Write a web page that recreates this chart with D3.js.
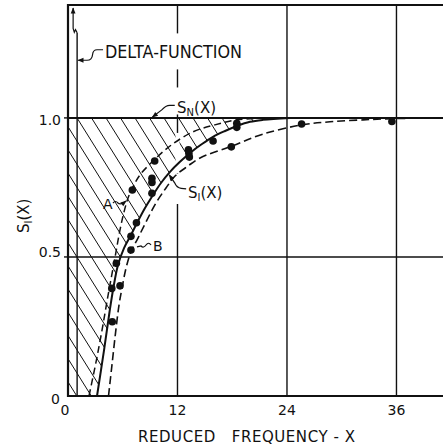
<!DOCTYPE html>
<html><head><meta charset="utf-8">
<script src="https://cdn.jsdelivr.net/npm/d3@7"></script>
<style>
html,body{margin:0;padding:0;background:#fff;}
svg{display:block;}
text{font-family:"DejaVu Sans",sans-serif;fill:#111;}
</style>
</head><body><div id="chart"></div>
<script>
// ---------------- data ----------------
const xTicks = [0, 12, 24, 36];
const xTickLabels = ["0", "12", "24", "36"];
const yTicks = [0, 0.5, 1.0];
const yTickLabels = ["0", "0.5", "1.0"];
const sNLevel = 1.0;          // S_N(X)
const deltaX = 1;             // delta-function location
// S_I(X), solid curve
const curveSI = [[3.18,0],[3.95,0.165],[4.55,0.302],[4.99,0.392],[5.48,0.471],[6.14,0.532],[6.90,0.579],[7.56,0.622],[8.44,0.676],[9.32,0.723],[10.19,0.766],[11.18,0.806],[12.27,0.842],[13.37,0.874],[14.68,0.906],[15.89,0.932],[17.21,0.953],[18.52,0.971],[19.95,0.986],[21.37,0.993],[24.33,1.0]];
// curve A (dashed, left)
const curveA = [[2.3,0],[3.07,0.122],[3.73,0.237],[4.38,0.36],[5.04,0.478],[5.70,0.597],[6.14,0.662],[6.58,0.712],[7.12,0.752],[7.89,0.795],[9.32,0.845],[11.18,0.899],[13.7,0.95],[16.1,0.975],[18.5,0.993],[22.1,1.0]];
// curve B (dashed, right)
const curveB = [[4.44,0],[4.82,0.112],[5.21,0.227],[5.59,0.327],[5.92,0.388],[6.36,0.460],[6.90,0.518],[7.67,0.568],[8.55,0.626],[9.64,0.694],[10.74,0.748],[11.73,0.791],[13.15,0.827],[14.47,0.856],[17.97,0.899],[21.37,0.942],[25.64,0.975],[28.71,0.986],[32.33,0.993],[36.4,0.998],[41.1,1.0]];
// measured points
const points = [[18.5,0.981],[18.5,0.966],[15.9,0.917],[17.9,0.896],[13.2,0.885],[13.25,0.872],[13.3,0.859],[9.5,0.845],[9.2,0.783],[9.2,0.768],[9.2,0.729],[7.05,0.741],[7.5,0.623],[6.9,0.574],[6.9,0.525],[5.3,0.477],[4.8,0.387],[5.7,0.396],[4.85,0.267],[25.6,0.978],[35.5,0.987]];

// ---------------- layout ----------------
const W = 443, H = 447;
const margin = {left: 68, right: 0, top: 5, bottom: 51};
const x = d3.scaleLinear().domain([0, 41.1]).range([margin.left, W - margin.right]);
const y = d3.scaleLinear().domain([0, 1.406]).range([H - margin.bottom, margin.top]);
const ink = "#111";

const svg = d3.select("#chart").append("svg").attr("width", W).attr("height", H);
svg.append("rect").attr("width", W).attr("height", H).attr("fill", "#fff");
const defs = svg.append("defs");
defs.append("marker").attr("id", "arr").attr("viewBox", "0 0 10 10")
  .attr("refX", 9).attr("refY", 5).attr("markerWidth", 7).attr("markerHeight", 6)
  .attr("markerUnits", "userSpaceOnUse").attr("orient", "auto")
  .append("path").attr("d", "M0,1 L10,5 L0,9 Z").attr("fill", ink);

const smooth = d3.line().x(d => x(d[0])).y(d => y(d[1])).curve(d3.curveCatmullRom.alpha(0.5));

// ---------------- hatched region between S_N and S_I ----------------
const last = curveSI[curveSI.length - 1];
const hatchPath = smooth(curveSI) + `L${x(last[0])},${y(sNLevel)}L${x(0)},${y(sNLevel)}L${x(0)},${y(0)}Z`;
defs.append("clipPath").attr("id", "hclip").append("path").attr("d", hatchPath);
const hatchG = svg.append("g").attr("clip-path", "url(#hclip)");
const step = 14.5, slope = 1.6;
const hLines = d3.range(87 - 300, W, step);
hatchG.selectAll("line").data(hLines).join("line")
  .attr("x1", d => d).attr("y1", y(sNLevel))
  .attr("x2", d => d + (y(0) - y(sNLevel)) / slope).attr("y2", y(0))
  .attr("stroke", ink).attr("stroke-width", 1);

// ---------------- grid & frame ----------------
const grid = svg.append("g").attr("stroke", ink);
grid.selectAll("line.v").data(xTicks.filter(d => d > 0)).join("line").attr("class", "v")
  .attr("x1", d => x(d)).attr("x2", d => x(d)).attr("y1", y(0)).attr("y2", y.range()[1])
  .attr("stroke-width", 1.4);
grid.selectAll("line.h").data(yTicks.filter(d => d > 0 && d < sNLevel)).join("line").attr("class", "h")
  .attr("x1", x(0)).attr("x2", x.range()[1]).attr("y1", d => y(d)).attr("y2", d => y(d))
  .attr("stroke-width", 1.4);
// S_N line
grid.append("line").attr("x1", x(0)).attr("x2", x.range()[1]).attr("y1", y(sNLevel)).attr("y2", y(sNLevel)).attr("stroke-width", 2);
// top border
grid.append("line").attr("x1", x(0)).attr("x2", x.range()[1]).attr("y1", y.range()[1]).attr("y2", y.range()[1]).attr("stroke-width", 2);
// axes
grid.append("line").attr("x1", x(0)).attr("x2", x(0)).attr("y1", y(0) + 1).attr("y2", y.range()[1] - 1).attr("stroke-width", 2.2);
grid.append("line").attr("x1", x(0) - 1).attr("x2", x.range()[1]).attr("y1", y(0)).attr("y2", y(0)).attr("stroke-width", 2.2);
// small y ticks
grid.selectAll("line.t").data(yTicks.filter(d => d > 0)).join("line").attr("class", "t")
  .attr("x1", x(0) - 4).attr("x2", x(0)).attr("y1", d => y(d)).attr("y2", d => y(d)).attr("stroke-width", 1.4);

// ---------------- masks behind labels ----------------
const masks = svg.append("g");
// gap in the x=12 grid line between the curves
masks.append("rect").attr("x", x(12) - 2).attr("width", 4)
  .attr("y", y(0.946)).attr("height", y(0.80) - y(0.946)).attr("fill", "#fff");

// ---------------- delta function ----------------
const dTop = 1.306;
svg.append("line").attr("x1", x(deltaX)).attr("x2", x(deltaX)).attr("y1", y(0)).attr("y2", y(dTop))
  .attr("stroke", ink).attr("stroke-width", 1.4);
{
  const sx = x(deltaX), sy = y(dTop);
  const p = d3.path();
  p.moveTo(sx, sy); p.lineTo(sx - 1.6, sy - 3.2); p.lineTo(sx - 2.8, sy - 0.6); p.lineTo(sx - 4, sy - 4.5);
  p.lineTo(sx - 4, y(1.395));
  svg.append("path").attr("d", p.toString()).attr("fill", "none").attr("stroke", ink)
    .attr("stroke-width", 1.2).attr("marker-end", "url(#arr)");
}

// ---------------- curves ----------------
svg.append("path").attr("d", smooth(curveA)).attr("fill", "none").attr("stroke", ink)
  .attr("stroke-width", 1.5).attr("stroke-dasharray", "7,4");
svg.append("path").attr("d", smooth(curveB)).attr("fill", "none").attr("stroke", ink)
  .attr("stroke-width", 1.6).attr("stroke-dasharray", "8,4");
svg.append("path").attr("d", smooth(curveSI)).attr("fill", "none").attr("stroke", ink)
  .attr("stroke-width", 2);

// ---------------- points ----------------
svg.append("g").selectAll("circle").data(points).join("circle")
  .attr("cx", d => x(d[0])).attr("cy", d => y(d[1])).attr("r", 3.8).attr("fill", ink);

// ---------------- tick labels ----------------
const xl = svg.append("g").attr("font-size", 14).attr("text-anchor", "middle");
xl.selectAll("text").data(xTicks).join("text")
  .attr("x", d => x(d) - (d === 0 ? 3 : 0)).attr("y", y(0) + 19).text((d, i) => xTickLabels[i]);
const yDy = [8, 0, 7];
const yl = svg.append("g").attr("font-size", 14).attr("text-anchor", "end");
yl.selectAll("text").data(yTicks).join("text")
  .attr("x", (d, i) => i === 0 ? x(0) - 8 : x(0) - 7).attr("y", (d, i) => y(d) + yDy[i]).text((d, i) => yTickLabels[i]);

// axis titles
svg.append("text").attr("x", 138).attr("y", 442).attr("font-size", 15)
  .attr("textLength", 217).attr("lengthAdjust", "spacing").style("white-space", "pre")
  .text("REDUCED   FREQUENCY - X");
{
  const t = svg.append("text").attr("transform", "translate(29,233) rotate(-90)").attr("font-size", 15);
  t.append("tspan").text("S");
  t.append("tspan").attr("font-size", 10).attr("dy", 3).text("I");
  t.append("tspan").attr("dy", -3).text("(X)");
}

// ---------------- annotations ----------------
function maskFor(node, l, r, t, b) {
  const bb = node.getBBox();
  masks.append("rect").attr("x", bb.x - l).attr("y", bb.y - t)
    .attr("width", bb.width + l + r).attr("height", bb.height + t + b).attr("fill", "#fff");
}
function leader(pts, arrow) {
  const p = d3.path();
  p.moveTo(pts[0][0], pts[0][1]);
  for (let i = 1; i < pts.length; i++) {
    const q = pts[i];
    if (q.length === 4) p.quadraticCurveTo(q[0], q[1], q[2], q[3]); else p.lineTo(q[0], q[1]);
  }
  svg.append("path").attr("d", p.toString()).attr("fill", "none").attr("stroke", ink)
    .attr("stroke-width", 1.2).attr("marker-end", arrow ? "url(#arr)" : null);
}

// DELTA-FUNCTION
const dl = svg.append("text").attr("x", x(4.05)).attr("y", y(1.214)).attr("font-size", 17)
  .attr("textLength", 137).attr("lengthAdjust", "spacingAndGlyphs").text("DELTA-FUNCTION");
maskFor(dl.node(), 3, 3, 9, 7);
{
  const sx = x(3.84), sy = y(1.245), tx = x(deltaX) + 1;
  leader([[sx, sy], [sx - 6, sy], [sx - 10, sy, sx - 10.5, sy + 5], [sx - 11, sy + 10.5, sx - 16, sy + 10.5], [tx, sy + 10.5]], true);
}

// S_N(X)
{
  const t = svg.append("text").attr("x", x(11.95)).attr("y", y(1.016)).attr("font-size", 15);
  t.append("tspan").text("S");
  t.append("tspan").attr("font-size", 10).attr("dy", 3).text("N");
  t.append("tspan").attr("dy", -3).text("(X)");
  maskFor(t.node(), 2, 1, 12, -4);
  const sx = x(11.7), sy = y(1.045);
  leader([[sx, sy], [sx - 5, sy], [sx - 9, sy, sx - 13, sy + 4.5], [x(9.25), y(1.003)]], true);
}

// S_I(X)
{
  const t = svg.append("text").attr("x", x(13.15)).attr("y", y(0.712)).attr("font-size", 15);
  t.append("tspan").text("S");
  t.append("tspan").attr("font-size", 10).attr("dy", 3).text("I");
  t.append("tspan").attr("dy", -3).text("(X)");
  maskFor(t.node(), 14, 1, 10, 1);
  const sx = x(12.95), sy = y(0.745);
  leader([[sx, sy], [sx - 5, sy - 0.5], [sx - 9.5, sy - 1, sx - 11.5, sy - 6], [x(11.1), y(0.795)]], true);
}

// A
svg.append("text").attr("x", x(3.84)).attr("y", y(0.674)).attr("font-size", 14).text("A");
{
  const sx = x(4.93), sy = y(0.694);
  leader([[sx, sy], [sx + 2.5, sy - 3, sx + 5, sy], [sx + 7.5, sy + 2.5, x(6.36), y(0.701)]], true);
}
// B
svg.append("text").attr("x", x(9.32)).attr("y", y(0.522)).attr("font-size", 14).text("B");
{
  const sx = x(9.1), sy = y(0.543);
  leader([[sx, sy], [sx - 2.5, sy - 3.5, sx - 5, sy], [sx - 7.5, sy + 3.5, sx - 10, sy + 1], [x(7.56), y(0.536)]], false);
}
</script>
</body></html>
